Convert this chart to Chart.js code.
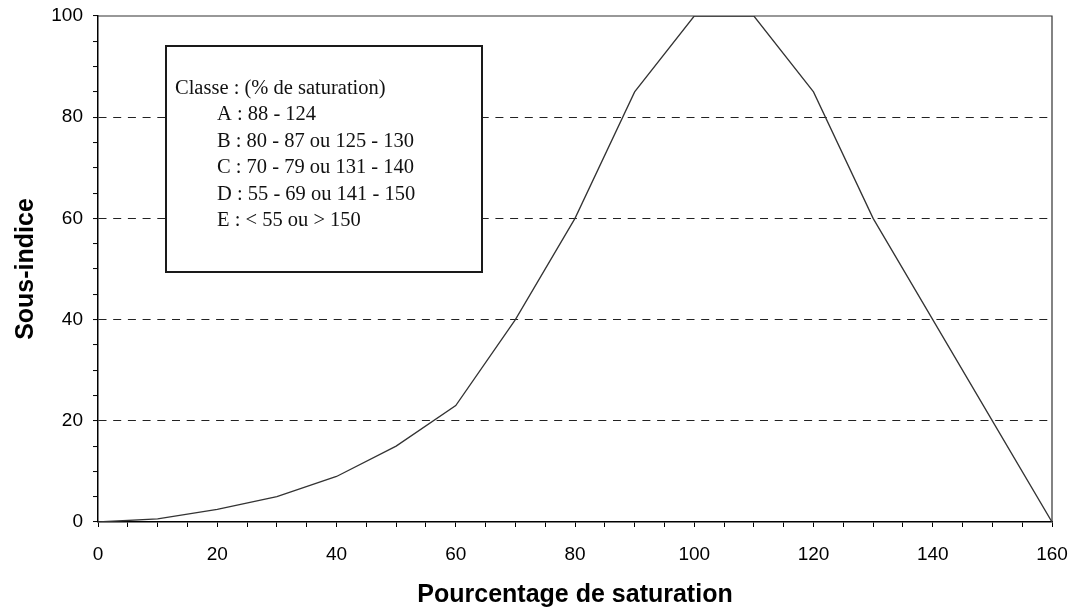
<!DOCTYPE html>
<html>
<head>
<meta charset="utf-8">
<script src="https://cdn.jsdelivr.net/npm/chart.js@4/dist/chart.umd.min.js"></script>
<style>
  html, body { margin: 0; padding: 0; background: #fff; }
  #wrap { width: 1075px; height: 612px; position: relative; }
</style>
</head>
<body>
<div id="wrap"><canvas id="c" width="1075" height="612"></canvas></div>
<script>
// ---- Data ----
const saturation = [0, 10, 20, 30, 40, 50, 60, 70, 80, 90, 100, 110, 120, 130, 140, 150, 160];
const sousIndice = [0, 0.6, 2.5, 5, 9, 15, 23, 40, 60, 85, 100, 100, 85, 60, 40, 20, 0];
const xTickLabels = [0, 20, 40, 60, 80, 100, 120, 140, 160];
const yTickLabels = [0, 20, 40, 60, 80, 100];
const dashedGridValues = [20, 40, 60, 80];
const xTitle = 'Pourcentage de saturation';
const yTitle = 'Sous-indice';
const legendTitle = 'Classe : (% de saturation)';
const legendLines = [
  'A : 88 - 124',
  'B : 80 - 87 ou 125 - 130',
  'C : 70 - 79 ou 131 - 140',
  'D : 55 - 69 ou 141 - 150',
  'E : < 55 ou > 150'
];

const sans = '"Liberation Sans", Arial, sans-serif';
const serif = '"Liberation Serif", "Times New Roman", serif';

const framePlugin = {
  id: 'frameAndNote',
  afterDraw(chart) {
    const ctx = chart.ctx;
    const a = chart.chartArea;
    ctx.save();
    // plot frame (top & right)
    ctx.strokeStyle = '#333';
    ctx.lineWidth = 1.2;
    ctx.beginPath();
    ctx.moveTo(a.left, a.top);
    ctx.lineTo(a.right, a.top);
    ctx.lineTo(a.right, a.bottom);
    ctx.stroke();
    // note box
    const bx = a.left + 68, by = a.top + 30, bw = 316, bh = 226;
    ctx.fillStyle = '#fff';
    ctx.fillRect(bx, by, bw, bh);
    ctx.strokeStyle = '#1a1a1a';
    ctx.lineWidth = 2;
    ctx.strokeRect(bx, by, bw, bh);
    ctx.fillStyle = '#111';
    ctx.font = '20.5px ' + serif;
    ctx.textBaseline = 'alphabetic';
    ctx.textAlign = 'left';
    ctx.fillText(legendTitle, bx + 9, by + 48);
    legendLines.forEach((t, i) => {
      ctx.fillText(t, bx + 51, by + 48 + 26.4 * (i + 1));
    });
    ctx.restore();
  }
};

new Chart(document.getElementById('c'), {
  type: 'line',
  data: {
    datasets: [{
      data: saturation.map((x, i) => ({ x: x, y: sousIndice[i] })),
      borderColor: '#333',
      borderWidth: 1.3,
      pointRadius: 0,
      tension: 0,
      fill: false
    }]
  },
  options: {
    responsive: false,
    animation: false,
    devicePixelRatio: 1,
    layout: { padding: { top: 16, right: 23, left: 0, bottom: 0 } },
    plugins: { legend: { display: false }, tooltip: { enabled: false } },
    scales: {
      x: {
        type: 'linear',
        min: 0, max: 160,
        afterFit(s) { s.height = 90; s.paddingLeft = 0; s.paddingRight = 0; },
        ticks: {
          stepSize: 5, maxTicksLimit: 40, autoSkip: false, maxRotation: 0,
          padding: 16,
          color: '#000',
          font: { family: sans, size: 19 },
          callback: (v) => xTickLabels.includes(v) ? String(v) : ''
        },
        grid: {
          drawOnChartArea: false,
          drawTicks: true,
          tickLength: 5,
          tickColor: '#000',
          tickWidth: 1
        },
        border: { display: true, color: '#000', width: 1.5 },
        title: {
          display: true, text: xTitle, color: '#000',
          font: { family: sans, size: 25, weight: 'bold' },
          padding: { top: 0, bottom: 2 }
        }
      },
      y: {
        type: 'linear',
        min: 0, max: 100,
        afterFit(s) { s.width = 98; s.paddingTop = 0; s.paddingBottom = 0; },
        ticks: {
          stepSize: 5, maxTicksLimit: 40, autoSkip: false,
          padding: 10,
          color: '#000',
          font: { family: sans, size: 19 },
          callback: (v) => yTickLabels.includes(v) ? String(v) : ''
        },
        grid: {
          drawOnChartArea: true,
          drawTicks: true,
          tickLength: 5,
          tickColor: '#000',
          tickWidth: 1,
          lineWidth: 1.1,
          color: (c) => (c.tick && dashedGridValues.includes(c.tick.value)) ? '#222' : 'rgba(0,0,0,0)'
        },
        border: { display: true, color: '#000', width: 1.5, dash: [8, 6.7] },
        title: {
          display: true, text: yTitle, color: '#000',
          font: { family: sans, size: 25, weight: 'bold' },
          padding: { top: 11, bottom: 0 }
        }
      }
    }
  },
  plugins: [framePlugin]
});
</script>
</body>
</html>
